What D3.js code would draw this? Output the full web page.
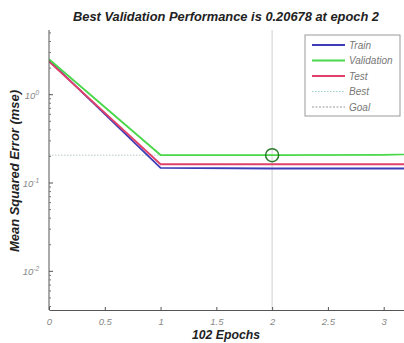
<!DOCTYPE html>
<html>
<head>
<meta charset="utf-8">
<script src="https://cdn.jsdelivr.net/npm/d3@7"></script>
<style>
  body { margin: 0; background: #fff; }
  text { font-family: "Liberation Sans", Arial, sans-serif; }
</style>
</head>
<body>
<div id="chart"></div>
<script>
// performance per epoch (only the first few epochs are visible)
var epochs = [0, 1, 2, 3, 4];
var trainPerf = [2.45, 0.148, 0.146, 0.146, 0.146];
var valPerf = [2.52, 0.2075, 0.20678, 0.2085, 0.222];
var testPerf = [2.38, 0.163, 0.163, 0.163, 0.163];
var bestEpoch = 2, bestPerf = 0.20678;

var xTicks = [0, 0.5, 1, 1.5, 2, 2.5, 3];
var yTicks = [1, 0.1, 0.01];
var yTickLabels = ['0', '-1', '-2'];
var legendNames = ['Train', 'Validation', 'Test', 'Best', 'Goal'];

var width = 404, height = 343,
    plotLeft = 49, plotRight = 406, plotTop = 30, plotBottom = 310;

var x = d3.scaleLinear().domain([0, 3.2]).range([plotLeft, plotRight]);
var y = d3.scaleLog().domain([0.00365, 5.4]).range([plotBottom, plotTop]);

var svg = d3.select('#chart').append('svg')
  .attr('width', width)
  .attr('height', height);

svg.append('clipPath').attr('id', 'clip')
  .append('rect')
  .attr('x', plotLeft).attr('y', plotTop)
  .attr('width', plotRight - plotLeft).attr('height', plotBottom - plotTop);

// best epoch guide lines
svg.append('line')
  .attr('x1', x(bestEpoch)).attr('x2', x(bestEpoch))
  .attr('y1', plotTop).attr('y2', plotBottom)
  .attr('stroke', '#d8d8d8').attr('stroke-width', 1.2);
svg.append('line')
  .attr('x1', plotLeft).attr('x2', x(bestEpoch))
  .attr('y1', y(bestPerf)).attr('y2', y(bestPerf))
  .attr('stroke', '#b8c8c8').attr('stroke-width', 1)
  .attr('stroke-dasharray', '1.5,1.5');

var line = d3.line()
  .x(function (d, i) { return x(epochs[i]); })
  .y(function (d) { return y(d); });

var series = [
  {values: trainPerf, color: '#3d3db8'},
  {values: testPerf, color: '#e0406a'},
  {values: valPerf, color: '#4ad84a'}
];

svg.append('g').attr('clip-path', 'url(#clip)')
  .selectAll('path').data(series)
  .enter().append('path')
  .attr('d', function (s) { return line(s.values); })
  .attr('fill', 'none')
  .attr('stroke', function (s) { return s.color; })
  .attr('stroke-width', 1.8);

svg.append('circle')
  .attr('cx', x(bestEpoch)).attr('cy', y(bestPerf))
  .attr('r', 6.5)
  .attr('fill', 'none')
  .attr('stroke', '#2a7a2a').attr('stroke-width', 1.5);

// axes
var xAxis = d3.axisBottom(x).tickValues(xTicks)
  .tickSizeInner(-3).tickSizeOuter(0).tickPadding(8)
  .tickFormat(function (d) { return d; });
var gx = svg.append('g').attr('transform', 'translate(0,' + plotBottom + ')').call(xAxis);
gx.select('.domain').attr('stroke', '#555');
gx.selectAll('.tick line').attr('stroke', '#555');
gx.selectAll('.tick text').attr('fill', '#888')
  .style('font-size', '9.5px').style('font-style', 'italic');

var minor = [];
[0.001, 0.01, 0.1, 1].forEach(function (dec) {
  for (var k = 2; k <= 9; k++) {
    var v = dec * k;
    if (v > y.domain()[0] && v < y.domain()[1]) minor.push(v);
  }
});

var gy = svg.append('g').attr('transform', 'translate(' + plotLeft + ',0)');
gy.append('line').attr('x1', 0).attr('x2', 0).attr('y1', plotTop).attr('y2', plotBottom)
  .attr('stroke', '#555');
gy.selectAll('.minor').data(minor).enter().append('line')
  .attr('x1', 0).attr('x2', 2)
  .attr('y1', function (d) { return y(d); }).attr('y2', function (d) { return y(d); })
  .attr('stroke', '#777');
gy.selectAll('.major').data(yTicks).enter().append('line')
  .attr('x1', 0).attr('x2', 4)
  .attr('y1', function (d) { return y(d); }).attr('y2', function (d) { return y(d); })
  .attr('stroke', '#555');
var yl = gy.selectAll('.ylab').data(yTicks).enter().append('text')
  .attr('x', -10).attr('y', function (d) { return y(d) + 4; })
  .attr('text-anchor', 'end')
  .attr('fill', '#888')
  .style('font-size', '9.5px').style('font-style', 'italic');
yl.append('tspan').text('10');
yl.append('tspan').attr('dy', -4).style('font-size', '6.5px')
  .text(function (d, i) { return yTickLabels[i]; });

// titles
svg.append('text')
  .attr('x', 226).attr('y', 21)
  .attr('text-anchor', 'middle')
  .attr('textLength', 306).attr('lengthAdjust', 'spacingAndGlyphs')
  .style('font-size', '12px').style('font-weight', 'bold').style('font-style', 'italic')
  .attr('fill', '#222')
  .text('Best Validation Performance is 0.20678 at epoch 2');
svg.append('text')
  .attr('x', 226).attr('y', 339)
  .attr('text-anchor', 'middle')
  .attr('textLength', 68).attr('lengthAdjust', 'spacingAndGlyphs')
  .style('font-size', '12px').style('font-weight', 'bold').style('font-style', 'italic')
  .attr('fill', '#222')
  .text('102 Epochs');
svg.append('text')
  .attr('transform', 'translate(19,171) rotate(-90)')
  .attr('text-anchor', 'middle')
  .attr('textLength', 162).attr('lengthAdjust', 'spacingAndGlyphs')
  .style('font-size', '12px').style('font-weight', 'bold').style('font-style', 'italic')
  .attr('fill', '#222')
  .text('Mean Squared Error  (mse)');

// legend
var legendColors = ['#3d3db8', '#4ad84a', '#e0406a', '#9ad0c8', '#999'];
var legendDash = [null, null, null, '1.5,1.5', '2,1.5'];
var lg = svg.append('g');
lg.append('rect')
  .attr('x', 305).attr('y', 35).attr('width', 95).attr('height', 81)
  .attr('fill', '#fff').attr('stroke', '#999');
var items = lg.selectAll('.item').data(legendNames).enter().append('g')
  .attr('transform', function (d, i) { return 'translate(0,' + (45 + i * 15.5) + ')'; });
items.append('line')
  .attr('x1', 312).attr('x2', 345)
  .attr('stroke', function (d, i) { return legendColors[i]; })
  .attr('stroke-width', function (d, i) { return i < 3 ? 2 : 1; })
  .attr('stroke-dasharray', function (d, i) { return legendDash[i]; });
items.append('text')
  .attr('x', 349).attr('y', 3.5)
  .attr('fill', '#777')
  .style('font-size', '10px').style('font-style', 'italic')
  .text(function (d) { return d; });
</script>
</body>
</html>
